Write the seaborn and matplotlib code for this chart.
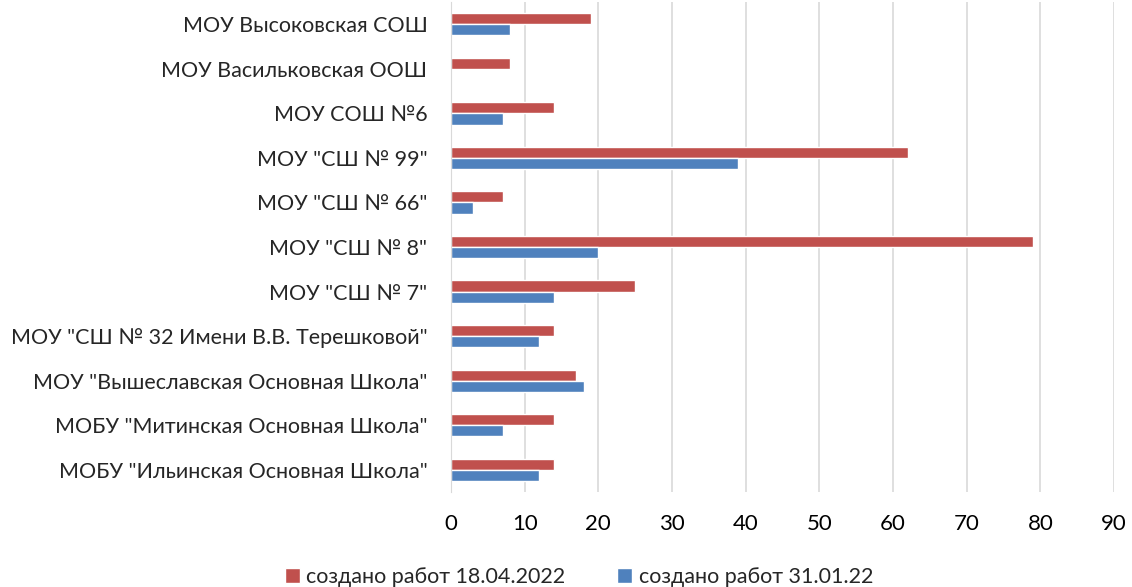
import pandas as pd
import seaborn as sns
import matplotlib.pyplot as plt

schools = [
    'МОУ Высоковская СОШ',
    'МОУ Васильковская ООШ',
    'МОУ СОШ №6',
    'МОУ "СШ № 99"',
    'МОУ "СШ № 66"',
    'МОУ "СШ № 8"',
    'МОУ "СШ № 7"',
    'МОУ "СШ № 32 Имени В.В. Терешковой"',
    'МОУ "Вышеславская Основная Школа"',
    'МОБУ "Митинская Основная Школа"',
    'МОБУ "Ильинская Основная Школа"',
]
series_april = 'создано работ 18.04.2022'
series_jan = 'создано работ 31.01.22'
april_values = [19, 8, 14, 62, 7, 79, 25, 14, 17, 14, 14]
jan_values = [8, 0, 7, 39, 3, 20, 14, 12, 18, 7, 12]

df = pd.DataFrame({'school': schools * 2,
                   'series': [series_april] * len(schools) + [series_jan] * len(schools),
                   'value': april_values + jan_values})

sns.set_style('white')
plt.rcParams['font.family'] = ['Lato', 'DejaVu Sans']

fig = plt.figure(figsize=(11.32, 5.87), dpi=100)
ax = fig.add_axes([451 / 1132, 1 - 492 / 587, (1114 - 451) / 1132, (492 - 2) / 587])

sns.barplot(data=df, y='school', x='value', hue='series', orient='h',
            hue_order=[series_april, series_jan],
            palette=['#C0504D', '#4F81BD'], saturation=1, width=0.5, ax=ax)

ax.set_xlim(0, 90)
ax.set_xticks(range(0, 91, 10))
ax.xaxis.grid(True, color='#D9D9D9', linewidth=1.2)
ax.set_axisbelow(True)
for side in ['top', 'right', 'bottom']:
    ax.spines[side].set_visible(False)
ax.spines['left'].set_color('#D9D9D9')
ax.set_xlabel('')
ax.set_ylabel('')
ax.tick_params(axis='x', labelsize=16, pad=16, length=0, colors='#000000')
ax.tick_params(axis='y', labelsize=15.5, pad=17, length=0)

handles, labels = ax.get_legend_handles_labels()
ax.legend_.remove()
fig.legend(handles, labels, loc='center', bbox_to_anchor=(579 / 1132, 1 - 577 / 587),
           ncol=2, frameon=False, fontsize=15.5, handlelength=0.7, handleheight=0.7,
           handletextpad=0.3, columnspacing=2.4)

fig.savefig('out.png', dpi=100)
